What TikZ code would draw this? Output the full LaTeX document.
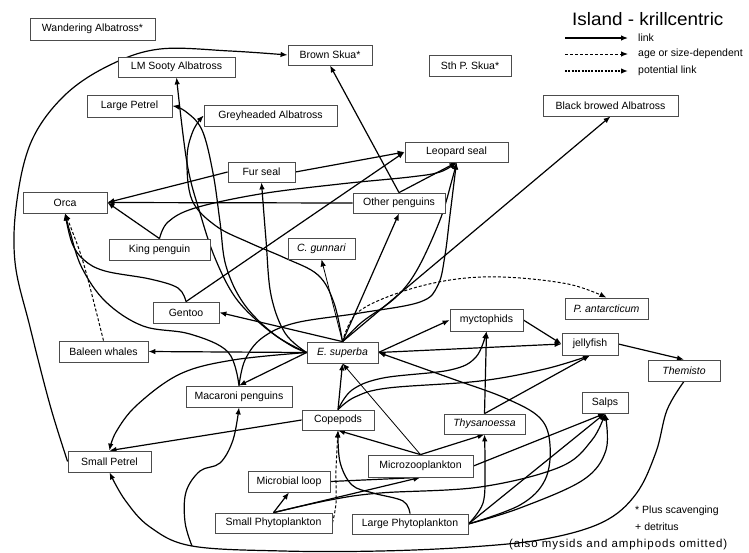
\documentclass[tikz,border=0pt]{standalone}
\usepackage{fontspec}
\setmainfont{Liberation Sans}
\usetikzlibrary{arrows.meta}
\pgfdeclarelayer{links}
\pgfsetlayers{links,main}
\begin{document}
\begin{tikzpicture}[x=1pt,y=-1pt,
  box/.style={draw=black!70, line width=0.8pt, fill=white, inner sep=0pt,
    font=\fontsize{10.5}{12}\selectfont},
  tip/.style={-{Latex[length=7pt,width=5.5pt]}},
  link/.style={tip, line width=1.2pt},
  thinlink/.style={tip, line width=0.8pt},
  agelink/.style={tip, line width=1pt, dash pattern=on 3pt off 2pt},
  potlink/.style={tip, line width=2.2pt, dash pattern=on 2pt off 1.3pt},
  note/.style={font=\fontsize{10.5}{12}\selectfont, anchor=west, inner sep=0pt},
  sm/.style={smooth, tension=0.6}
]
\useasboundingbox (0,0) rectangle (749,552);

% ---------- species boxes ----------
\node[box, minimum width=125pt, minimum height=22pt] (wa)   at (92.5,29)    {Wandering Albatross*};
\node[box, minimum width=84pt,  minimum height=20pt] (bsk)  at (330,55)     {Brown Skua*};
\node[box, minimum width=117pt, minimum height=20pt] (lms)  at (176.5,67)   {LM Sooty Albatross};
\node[box, minimum width=82pt,  minimum height=21pt] (sps)  at (470,66)     {Sth P. Skua*};
\node[box, minimum width=85pt,  minimum height=22pt] (lpet) at (129.5,106)  {Large Petrel};
\node[box, minimum width=133pt, minimum height=21pt] (grey) at (270.5,115.5){Greyheaded Albatross};
\node[box, minimum width=135pt, minimum height=21pt] (bba)  at (610.5,105.5){Black browed Albatross};
\node[box, minimum width=103pt, minimum height=20pt] (leo)  at (456.5,152)  {Leopard seal};
\node[box, minimum width=67pt,  minimum height=20pt] (fur)  at (261.5,172)  {Fur seal};
\node[box, minimum width=84pt,  minimum height=21pt] (orca) at (65,202.5)   {Orca};
\node[box, minimum width=92pt,  minimum height=20pt] (op)   at (399,203)    {Other penguins};
\node[box, minimum width=101pt, minimum height=21pt] (kp)   at (159.5,249.5){King penguin};
\node[box, minimum width=67pt,  minimum height=21pt] (cg)   at (321.5,248.5){\textit{C. gunnari}};
\node[box, minimum width=66pt,  minimum height=21pt] (gen)  at (186,312.5)  {Gentoo};
\node[box, minimum width=83pt,  minimum height=21pt] (pant) at (606.5,308.5){\textit{P. antarcticum}};
\node[box, minimum width=73pt,  minimum height=22pt] (myc)  at (486.5,320)  {myctophids};
\node[box, minimum width=89pt,  minimum height=21pt] (bal)  at (103.5,351.5){Baleen whales};
\node[box, minimum width=71pt,  minimum height=21pt] (esup) at (342.5,352.5){\textit{E. superba}};
\node[box, minimum width=56pt,  minimum height=22pt] (jf)   at (590,344)    {jellyfish};
\node[box, minimum width=72pt,  minimum height=21pt] (them) at (684,370.5)  {\textit{Themisto}};
\node[box, minimum width=106pt, minimum height=21pt] (mac)  at (239,396.5)  {Macaroni penguins};
\node[box, minimum width=46pt,  minimum height=21pt] (salps)at (605,402.5)  {Salps};
\node[box, minimum width=72pt,  minimum height=20pt] (cop)  at (338,420)    {Copepods};
\node[box, minimum width=81pt,  minimum height=20pt] (thy)  at (484.5,424)  {\textit{Thysanoessa}};
\node[box, minimum width=83pt,  minimum height=21pt] (spet) at (109.5,461.5){Small Petrel};
\node[box, minimum width=105pt, minimum height=22pt] (mz)   at (420.5,466)  {Microzooplankton};
\node[box, minimum width=82pt,  minimum height=21pt] (ml)   at (289,481.5)  {Microbial loop};
\node[box, minimum width=117pt, minimum height=20pt] (sp)   at (273.5,523)  {Small Phytoplankton};
\node[box, minimum width=116pt, minimum height=20pt] (lp)   at (410,524)    {Large Phytoplankton};

\coordinate (fork) at (192,546);

% ---------- feeding links ----------
\begin{pgfonlayer}{links}
% skuas, seals and orca
\draw[link] plot[sm] coordinates {(spet.west) (50,405) (30,327) (15,262) (17,200) (32,140) (65,95) (110,65) (160,49) (230,51) (bsk.west)};
\draw[link] (op.north) -- (bsk.south);
\draw[link] (op.north) -- (leo.south);
\draw[link] (op.west) -- (orca.east);
\draw[link] (fur.west) -- (orca.east);
\draw[link] (kp.north) -- (orca.east);
\draw[link] (fur.east) -- (leo.west);
\draw[link] (gen.north) -- (leo.west);
\draw[link] plot[sm] coordinates {(kp.north) (168,222) (195,208) (260,194) (340,184) (410,177) (440,172) (leo.south)};
\draw[link] plot[sm] coordinates {(esup.north) (362,322) (395,298) (417,270) (440,220) (452,180) (leo.south)};
\draw[link] plot[sm] coordinates {(mac.north) (245,360) (262,338) (295,323) (360,313) (420,302) (438,285) (445,255) (450,215) (leo.south)};
\draw[link] plot[sm] coordinates {(gen.north) (178,288) (150,279) (105,271) (84,260) (72,243) (orca.south)};
\draw[link] plot[sm] coordinates {(mac.north) (228,352) (190,334) (143,326) (106,302) (82,268) (70,232) (orca.south)};
\draw[agelink] plot[sm] coordinates {(bal.north) (84,265) (71,228) (orca.south)};

% krill and its consumers
\draw[link] (esup.north) -- (op.south);
\draw[link] (esup.north) -- (bba.south);
\draw[thinlink] (esup.north) -- (cg.south);
\draw[link] (esup.north) -- (gen.east);
\draw[link] (esup.west) -- (bal.east);
\draw[link] (esup.west) -- (mac.north);
\draw[link] plot[sm] coordinates {(esup.west) (233,360) (180,374) (137,405) (116,432) (spet.north)};
\draw[link] plot[sm] coordinates {(esup.west) (285,333) (271,295) (266,240) (fur.south)};
\draw[link] plot[sm] coordinates {(esup.west) (290,345) (262,325) (235,297) (215,258) (200,213) (187,163) (lms.south)};
\draw[link] plot[sm] coordinates {(esup.west) (275,335) (244,304) (226,266) (220,222) (213,173) (202,130) (185,111) (lpet.east)};
\draw[link] plot[sm] coordinates {(esup.north) (334,303) (318,275) (285,258) (250,243) (216,226) (192,200) (187,158) (193,131) (grey.west)};
\draw[link] (esup.east) -- (myc.west);
\draw[link] (esup.east) -- (jf.west);
\draw[agelink] plot[sm] coordinates {(esup.north) (357,313) (398,293) (450,280) (503,277) (568,284) (pant.north)};

% mid-water links
\draw[link] (myc.east) -- (jf.west);
\draw[link] (jf.east) -- (them.north);
\draw[link] plot[sm] coordinates {(them.south) (667,410) (656,452) (636,494) (603,522) (545,539) (470,547) (380,551) (283,551) (192,546) (150,527) (125,500) (spet.south)};
\draw[link] plot[sm] coordinates {(fork) (185,522) (186,492) (200,471) (220,463) (233,440) (mac.south)};

% zooplankton and primary producers
\draw[link] (cop.west) -- (spet.north);
\draw[link] (cop.north) -- (esup.south);
\draw[link] plot[sm] coordinates {(cop.north) (352,390) (383,378) (450,370) (476,357) (myc.south)};
\draw[link] plot[sm] coordinates {(cop.north) (355,397) (388,388) (480,381) (545,369) (jf.south)};
\draw[link] (thy.north) -- (myc.south);
\draw[link] (thy.north) -- (jf.south);
\draw[thinlink] (mz.north) -- (esup.south);
\draw[link] (mz.north) -- (cop.south);
\draw[link] (mz.north) -- (thy.south);
\draw[link] (mz.east) -- (salps.south);
\draw[link] (ml.east) -- (mz.south);
\draw[link] (sp.north) -- (mz.south);
\draw[link] (sp.north) -- (ml.south);
\draw[agelink] plot[sm] coordinates {(sp.east) (336,503) (336,470) (cop.south)};
\draw[link] plot[sm] coordinates {(sp.north) (330,500) (380,493) (480,487) (560,467) (592,440) (salps.south)};
\draw[link] plot[sm] coordinates {(lp.north) (403,501) (373,493) (352,485) (340,462) (cop.south)};
\draw[link] plot[sm] coordinates {(lp.east) (483,503) (485,470) (thy.south)};
\draw[link] (lp.east) -- (salps.south);
\draw[link] plot[sm] coordinates {(lp.east) (520,508) (583,480) (606,450) (salps.south)};
\draw[link] plot[sm] coordinates {(lp.east) (520,505) (545,480) (550,445) (540,418) (505,398) (450,378) (esup.east)};
\end{pgfonlayer}

% ---------- key ----------
\node[anchor=west, inner sep=0pt, font=\fontsize{18}{20}\selectfont] (title) at (572,19) {\scalebox{1.05}[1]{Island - krillcentric}};
\coordinate (ka) at (565,38);  \coordinate (kb) at (628,38);
\coordinate (kc) at (565,54);  \coordinate (kd) at (628,54);
\coordinate (ke) at (565,71);  \coordinate (kf) at (628,71);
\draw[link] (ka) -- (kb);
\draw[agelink] (kc) -- (kd);
\draw[potlink] (ke) -- (kf);
\node[note] (klink) at (638,38) {link};
\node[note] (kage)  at (638,54) {age or size-dependent};
\node[note] (kpot)  at (638,71) {potential link};

% ---------- footnotes ----------
\node[note] (n1) at (635,511) {* Plus scavenging};
\node[note] (n2) at (635,527) {+ detritus};
\node[note, font=\fontsize{11.5}{13}\selectfont] (n3) at (509,545) {\addfontfeatures{LetterSpace=8}(also mysids and amphipods omitted)};
\end{tikzpicture}
\end{document}
